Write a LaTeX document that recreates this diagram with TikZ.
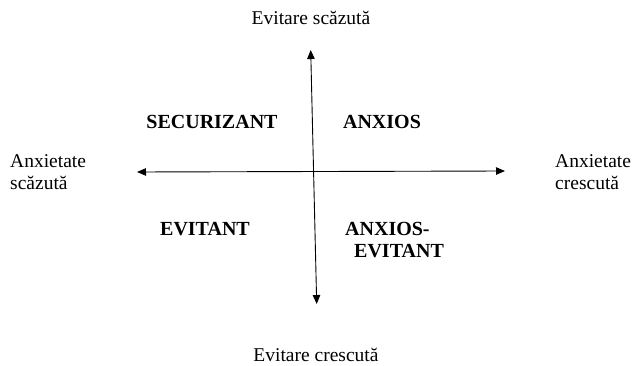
\documentclass[tikz,border=0pt]{standalone}
\usepackage{fontspec}
\setmainfont{Liberation Serif}
\usetikzlibrary{arrows.meta}
\begin{document}
\begin{tikzpicture}[x=1pt,y=-1pt,
  lbl/.style={font=\fontsize{19.5}{22}\selectfont, inner sep=0pt},
  quad/.style={font=\fontsize{20}{22}\selectfont\bfseries, inner sep=0pt},
  axis/.style={line width=0.9pt, {Triangle[length=9pt,width=7.5pt]}-{Triangle[length=9pt,width=7.5pt]}}]
\useasboundingbox (0,0) rectangle (634,366);
\node[lbl] (top) at (311,18) {Evitare scăzută};
\node[lbl] (bottom) at (316,355) {Evitare crescută};
\node[lbl, align=left, anchor=west] (left) at (10,172) {Anxietate\\scăzută};
\node[lbl, align=left, anchor=west] (right) at (555,172) {Anxietate\\crescută};
\node[quad] (sec) at (212,122) {SECURIZANT};
\node[quad] (anx) at (382,122) {ANXIOS};
\node[quad] (evi) at (205,229) {EVITANT};
\node[quad, align=left, anchor=west] (anxevi) at (345,240) {ANXIOS-\\\hspace{9pt}EVITANT};
\coordinate (vt) at (310.7,50);
\coordinate (vb) at (316.7,304);
\coordinate (hl) at (137,172);
\coordinate (hr) at (505,171);
\draw[axis] (vb) -- (vt);
\draw[axis] (hl) -- (hr);
\end{tikzpicture}
\end{document}
